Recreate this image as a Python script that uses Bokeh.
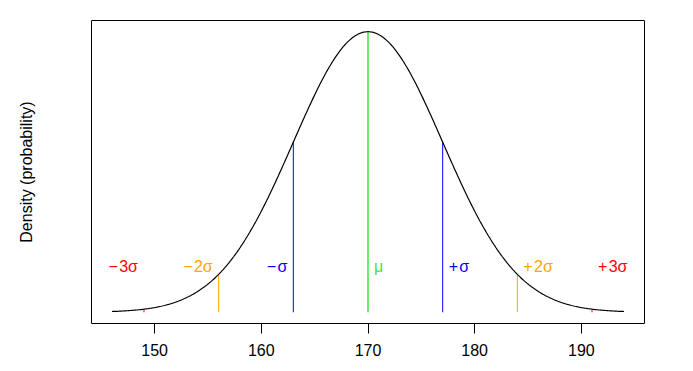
import numpy as np
from bokeh.plotting import figure
from bokeh.models import FixedTicker, ColumnDataSource, Range1d
from bokeh.core.properties import value
from bokeh.embed import file_html
from bokeh.resources import INLINE

# ---- data ----
mu = 170
sigma = 7
curve_from = 146
curve_to = 194
k_values = [-3, -2, -1, 0, 1, 2, 3]
labels = ["\u2212\u200a3\u03c3", "\u2212\u200a2\u03c3", "\u2212\u200a\u03c3", "\u03bc",
          "+\u200a\u03c3", "+\u200a2\u03c3", "+\u200a3\u03c3"]
line_colors = ["#FF0000", "#FFA500", "#0000FF", "#6CEE6C", "#0000FF", "#FFA500", "#FF0000"]
text_colors = ["#FF0000", "#FFA500", "#0000FF", "#44E444", "#0000FF", "#FFA500", "#FF0000"]
x_ticks = [150, 160, 170, 180, 190]
y_title = "Density (probability)"
label_density = 0.0093


def dnorm(x):
    x = np.asarray(x, dtype=float)
    return np.exp(-0.5 * ((x - mu) / sigma) ** 2) / (sigma * np.sqrt(2 * np.pi))


cx = np.linspace(curve_from, curve_to, 481)
cy = dnorm(cx)
line_x = [mu + k * sigma for k in k_values]
line_y = list(dnorm(line_x))
line_w = [2 if k == 0 else 1 for k in k_values]

xpad = 0.04 * (curve_to - curve_from)
ypeak = cy.max()

FONT = "Liberation Sans"
FS = "16px"

p = figure(frame_width=553, frame_height=303, output_backend="svg", toolbar_location=None,
           x_range=Range1d(curve_from - xpad, curve_to + xpad),
           y_range=Range1d(-0.04 * ypeak, 1.04 * ypeak),
           min_border_left=91, min_border_right=41, min_border_top=20, min_border_bottom=40)
p.background_fill_color = "white"
p.border_fill_color = "white"
p.outline_line_color = "black"
p.outline_line_width = 1
p.xgrid.visible = False
p.ygrid.visible = False

xa = p.xaxis[0]
xa.ticker = FixedTicker(ticks=x_ticks)
xa.axis_line_color = None
xa.major_tick_in = 0
xa.major_tick_out = 10
xa.major_tick_line_color = "black"
xa.minor_tick_line_color = None
xa.major_label_standoff = 10
xa.major_label_text_font = FONT
xa.major_label_text_font_size = FS
xa.major_label_text_color = "black"

ya = p.yaxis[0]
ya.ticker = FixedTicker(ticks=[])
ya.axis_line_color = None
ya.major_tick_in = 0
ya.major_tick_out = 0
ya.minor_tick_line_color = None
ya.major_label_text_font_size = "0px"
ya.axis_label = y_title
ya.axis_label_standoff = 57
ya.axis_label_text_font = FONT
ya.axis_label_text_font_size = FS
ya.axis_label_text_font_style = "normal"
ya.axis_label_text_color = "black"

seg = ColumnDataSource(dict(x=line_x, y0=[0] * len(line_x), y1=line_y, c=line_colors, w=line_w))
p.segment(x0="x", y0="y0", x1="x", y1="y1", line_color="c", line_width="w", source=seg)

p.line(cx, cy, line_color="black", line_width=1.2)

neg = [i for i, k in enumerate(k_values) if k < 0]
pos = [i for i, k in enumerate(k_values) if k >= 0]
src_neg = ColumnDataSource(dict(x=[line_x[i] for i in neg], y=[label_density] * len(neg),
                                t=[labels[i] for i in neg], c=[text_colors[i] for i in neg]))
src_pos = ColumnDataSource(dict(x=[line_x[i] for i in pos], y=[label_density] * len(pos),
                                t=[labels[i] for i in pos], c=[text_colors[i] for i in pos]))
p.text(x="x", y="y", text="t", text_color="c", source=src_neg, text_align="right",
       text_baseline="middle", x_offset=-6, text_font=value(FONT), text_font_size=FS)
p.text(x="x", y="y", text="t", text_color="c", source=src_pos, text_align="left",
       text_baseline="middle", x_offset=6, text_font=value(FONT), text_font_size=FS)

open("out.html", "w").write(file_html(p, INLINE))
